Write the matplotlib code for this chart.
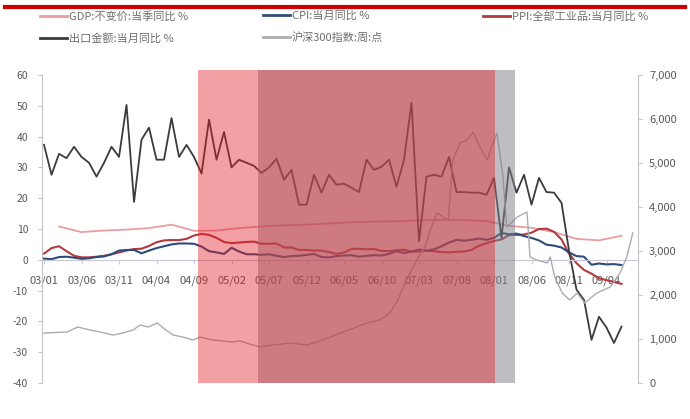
import matplotlib
matplotlib.use("Agg")
import matplotlib.pyplot as plt
import numpy as np
from matplotlib.lines import Line2D
from matplotlib.ticker import FuncFormatter

plt.rcParams['font.family'] = ['Noto Sans CJK SC', 'DejaVu Sans']
plt.rcParams['axes.unicode_minus'] = False

# monthly series, month 0 = 2003/01
export_yoy = [37.3, 27.6, 34.4, 33.0, 36.7, 33.4, 31.5, 27.0, 31.5, 36.7, 33.4, 50.3,
              18.8, 39.0, 42.9, 32.5, 32.5, 46.0, 33.4, 37.3, 33.4, 28.0, 45.5, 32.5,
              41.5, 30.0, 32.5, 31.5, 30.5, 28.2, 30.0, 32.8, 26.0, 29.2, 17.9, 17.9,
              27.6, 21.8, 27.6, 24.4, 24.7, 23.4, 22.0, 32.5, 29.2, 30.2, 32.5, 23.7,
              32.5, 51.0, 6.0, 27.0, 27.6, 27.0, 33.4, 22.0, 22.0, 21.8, 21.8, 21.1,
              26.6, 7.0, 30.0, 21.8, 27.6, 17.9, 26.6, 22.0, 21.8, 18.5, 3.0, -9.7,
              -13.0, -26.0, -18.5, -22.0, -27.0, -21.7]
cpi_yoy = [0.4, 0.2, 0.9, 1.0, 0.7, 0.3, 0.5, 0.9, 1.1, 1.8, 3.0, 3.2,
           3.2, 2.1, 3.0, 3.8, 4.4, 5.0, 5.3, 5.3, 5.2, 4.3, 2.8, 2.4,
           1.9, 3.9, 2.7, 1.8, 1.8, 1.6, 1.8, 1.3, 0.9, 1.2, 1.3, 1.6,
           1.9, 0.9, 0.8, 1.2, 1.4, 1.5, 1.0, 1.3, 1.5, 1.4, 1.9, 2.8,
           2.2, 2.7, 3.3, 3.0, 3.4, 4.4, 5.6, 6.5, 6.2, 6.5, 6.9, 6.5,
           7.1, 8.7, 8.3, 8.5, 7.7, 7.1, 6.3, 4.9, 4.6, 4.0, 2.4, 1.2,
           1.0, -1.6, -1.2, -1.5, -1.4, -1.7]
ppi_yoy = [2.0, 3.8, 4.4, 2.8, 1.3, 0.8, 0.8, 1.0, 1.3, 1.8, 2.4, 3.0,
           3.5, 3.6, 4.5, 5.7, 6.3, 6.4, 6.4, 6.8, 7.9, 8.4, 8.1, 7.1,
           5.8, 5.4, 5.6, 5.8, 5.9, 5.2, 5.2, 5.3, 4.0, 4.0, 3.2, 3.2,
           3.0, 3.0, 2.5, 1.9, 2.4, 3.5, 3.6, 3.4, 3.5, 2.9, 2.8, 3.1,
           3.3, 2.6, 2.7, 2.9, 2.8, 2.5, 2.4, 2.6, 2.7, 3.2, 4.6, 5.4,
           6.1, 6.6, 8.0, 8.1, 8.2, 8.8, 10.0, 10.1, 9.1, 6.6, 2.0, -1.1,
           -3.3, -4.5, -6.0, -6.6, -7.2, -7.8]

# quarterly GDP, placed on the last month of each quarter
gdp_months = list(range(2, 78, 3))
gdp_yoy = [10.8, 9.0, 9.5, 9.8, 10.3, 11.4, 9.4, 9.5,
           10.3, 10.8, 11.2, 11.4, 11.8, 12.2, 12.4, 12.5,
           12.8, 13.0, 12.9, 12.6, 11.0, 10.4, 9.0, 6.8,
           6.3, 7.8]

# CSI 300 index level (right axis)
hs300_months = [0.0, 3.1, 4.5, 6.1, 7.5, 9.2, 10.5, 11.9, 12.8, 13.9, 15.1, 15.9,
                17.2, 18.5, 19.9, 20.8, 22.5, 25.2, 26.1, 27.5, 28.8, 30.5, 32.8,
                35.1, 37.2, 39.5, 41.7, 43.1, 44.8, 46.1, 47.2, 47.9, 48.8, 49.7,
                50.8, 51.5, 52.4, 53.2, 53.9, 54.5, 55.5, 56.4, 57.2, 58.1, 59.1,
                59.5, 60.4, 61.2, 61.7, 63.1, 64.4, 64.8, 65.7, 67.1, 67.5, 68.1,
                69.1, 70.1, 71.1, 72.1, 73.7, 75.5, 76.8, 77.7, 78.5]
hs300_close = [1136, 1159, 1273, 1205, 1159, 1090, 1136, 1205, 1318, 1273, 1364, 1250,
               1090, 1045, 977, 1045, 977, 932, 960, 880, 818, 864, 909,
               864, 977, 1136, 1273, 1364, 1432, 1591, 1886, 2182, 2500, 2795,
               3091, 3477, 3864, 3773, 3705, 5068, 5455, 5523, 5705, 5364, 5068,
               5295, 5682, 4682, 3545, 3773, 3886, 2864, 2795, 2727, 2864, 2409,
               2045, 1886, 2045, 1818, 2045, 2182, 2500, 2864, 3409]

# highlighted periods (months since 2003/01)
red_period = (20.5, 60.1)
grey_period = (28.5, 62.8)

labels = ['GDP:不变价:当季同比 %', '出口金额:当月同比 %', 'CPI:当月同比 %',
          '沪深300指数:周:点', 'PPI:全部工业品:当月同比 %']

c_gdp = '#eb9da3'
c_export = '#3b3b3b'
c_cpi = '#2f4b7c'
c_ppi = '#b23a3f'
c_hs = '#adadad'
txt = '#595959'
axc = '#c4c4c4'

W, H = 690, 419
fig = plt.figure(figsize=(W / 100, H / 100), dpi=100)
ax = fig.add_axes([42 / W, 1 - 383 / H, (638 - 42) / W, (383 - 75) / H])
ax2 = ax.twinx()

months = np.arange(len(export_yoy))
ax.plot(gdp_months, gdp_yoy, color=c_gdp, lw=1.3)
ax.plot(months, ppi_yoy, color=c_ppi, lw=1.5)
ax.plot(months, cpi_yoy, color=c_cpi, lw=1.5)
ax.plot(months, export_yoy, color=c_export, lw=1.3)
ax2.plot(hs300_months, hs300_close, color=c_hs, lw=1.0)

ax.set_xlim(-0.27, 79.2)
ax.set_ylim(-40, 60)
ax2.set_ylim(0, 7000)

xt = np.arange(0, 76, 5)
ax.set_xticks(xt)
ax.set_xticklabels([f"{3 + m // 12:02d}/{m % 12 + 1:02d}" for m in xt])
ax.set_yticks(np.arange(-40, 61, 10))
ax2.set_yticks(np.arange(0, 7001, 1000))
ax2.yaxis.set_major_formatter(FuncFormatter(lambda v, p: f"{int(v):,}"))

for a in (ax, ax2):
    a.spines['top'].set_visible(False)
ax.spines['right'].set_visible(False)
ax2.spines['left'].set_visible(False)
ax2.spines['bottom'].set_visible(False)
ax.spines['bottom'].set_position(('data', 0))
ax.spines['bottom'].set_color('#c9c6d6')
ax.spines['left'].set_color(axc)
ax2.spines['right'].set_color(axc)

ax.tick_params(axis='x', length=3, pad=8, color='#c9c6d6', labelcolor=txt, labelsize=8)
ax.tick_params(axis='y', length=3, pad=7, color=axc, labelcolor=txt, labelsize=7.5)
ax2.tick_params(axis='y', length=3, pad=5, color=axc, labelcolor=txt, labelsize=8)

# shaded periods drawn over the series
g = ax2.axvspan(*grey_period, ymin=0, ymax=1.016, color='#7f7f87', alpha=0.5, lw=0, zorder=5)
r = ax2.axvspan(*red_period, ymin=0, ymax=1.016, color='#e21d28', alpha=0.42, lw=0, zorder=6)
g.set_clip_on(False)
r.set_clip_on(False)

# legend, three columns
handles = [Line2D([], [], color=c, lw=2) for c in (c_gdp, c_export, c_cpi, c_hs, c_ppi)]
cols = [(40, [0, 1]), (263, [2, 3]), (483, [4])]
for x0, idx in cols:
    fig.legend([handles[i] for i in idx], [labels[i] for i in idx],
               loc='upper left', bbox_to_anchor=(x0 / W, 1 - 11 / H),
               frameon=False, fontsize=8, handlelength=2.4, handletextpad=0.2,
               labelspacing=1.0, borderpad=0, borderaxespad=0, labelcolor='#6f6f6f')

# red rule across the top
fig.add_artist(Line2D([5 / W, 685 / W], [1 - 7 / H] * 2, color='#cc0000', lw=3))

fig.savefig('out.png', dpi=100)
